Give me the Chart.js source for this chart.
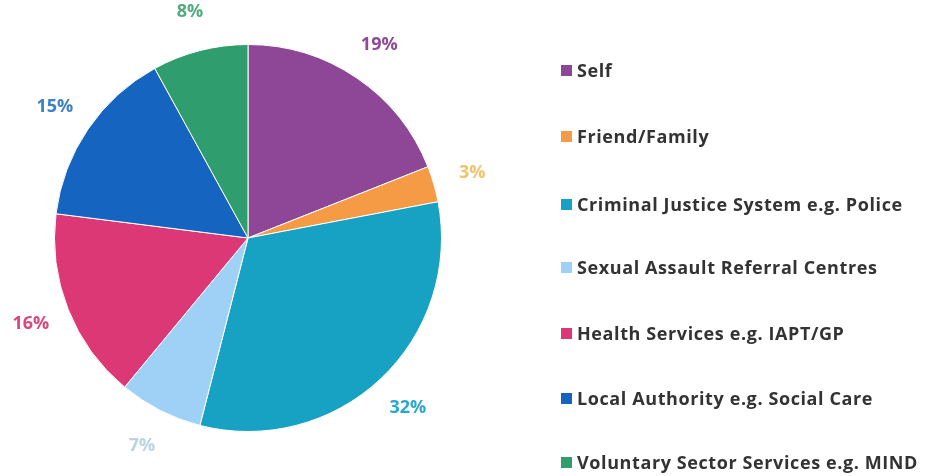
<!DOCTYPE html>
<html>
<head>
<meta charset="utf-8">
<script src="https://cdn.jsdelivr.net/npm/chart.js@4/dist/chart.umd.min.js"></script>
<style>
  html, body { margin: 0; padding: 0; background: #fff; }
  #wrap { position: relative; width: 932px; height: 476px; }
  #pieChart { position: absolute; left: 0; top: 0; }
  #legend { position: absolute; left: 561px; top: 0; font-family: "Open Sans", sans-serif; font-weight: 700; font-size: 18px; letter-spacing: 0.6px; color: #333; }
  #legend div { position: absolute; white-space: nowrap; display: flex; align-items: center; }
  #legend span.box { display: inline-block; width: 11px; height: 11px; margin-right: 5px; }
</style>
</head>
<body>
<div id="wrap">
  <canvas id="pieChart" width="932" height="476"></canvas>
  <div id="legend"></div>
</div>
<script>
const categories = [
  "Self",
  "Friend/Family",
  "Criminal Justice System e.g. Police",
  "Sexual Assault Referral Centres",
  "Health Services e.g. IAPT/GP",
  "Local Authority e.g. Social Care",
  "Voluntary Sector Services e.g. MIND"
];
const values = [19, 3, 32, 7, 16, 15, 8];
const sliceColors = ["#8e4796", "#f59a45", "#17a2c3", "#9fd0f5", "#dc3875", "#1565c0", "#2f9d6d"];
const labelColors = ["#8e4a97", "#f0c46a", "#2aa8cc", "#b9d3e3", "#d9477f", "#3c80c6", "#52aa80"];

// legend built from the same arrays
const legendRowsY = [71, 137, 205, 268, 334, 399, 463];
const legend = document.getElementById("legend");
categories.forEach((c, i) => {
  const row = document.createElement("div");
  row.style.top = (legendRowsY[i] - 13) + "px";
  row.innerHTML = `<span class="box" style="background:${sliceColors[i]}"></span>${c}`;
  legend.appendChild(row);
});

// percentage labels outside the pie
const outsideLabels = {
  id: "outsideLabels",
  afterDatasetsDraw(chart) {
    const ctx = chart.ctx;
    const meta = chart.getDatasetMeta(0);
    ctx.save();
    ctx.font = "bold 18px 'Open Sans', sans-serif";
    ctx.textAlign = "center";
    ctx.textBaseline = "middle";
    meta.data.forEach((arc, i) => {
      const { x, y, startAngle, endAngle, outerRadius } = arc.getProps(["x", "y", "startAngle", "endAngle", "outerRadius"]);
      const mid = (startAngle + endAngle) / 2;
      const r = outerRadius + 40;
      ctx.fillStyle = labelColors[i];
      ctx.fillText(values[i] + "%", x + Math.cos(mid) * r, y + Math.sin(mid) * r);
    });
    ctx.restore();
  }
};

const pieCtx = document.getElementById("pieChart").getContext("2d");
new Chart(pieCtx, {
  type: "pie",
  data: {
    labels: categories,
    datasets: [{
      data: values,
      backgroundColor: sliceColors,
      borderColor: "#ffffff",
      borderWidth: 1
    }]
  },
  options: {
    responsive: false,
    animation: false,
    layout: { padding: { left: 54, top: 44, right: 490, bottom: 44 } },
    plugins: {
      legend: { display: false },
      tooltip: { enabled: false }
    }
  },
  plugins: [outsideLabels]
});
</script>
</body>
</html>
